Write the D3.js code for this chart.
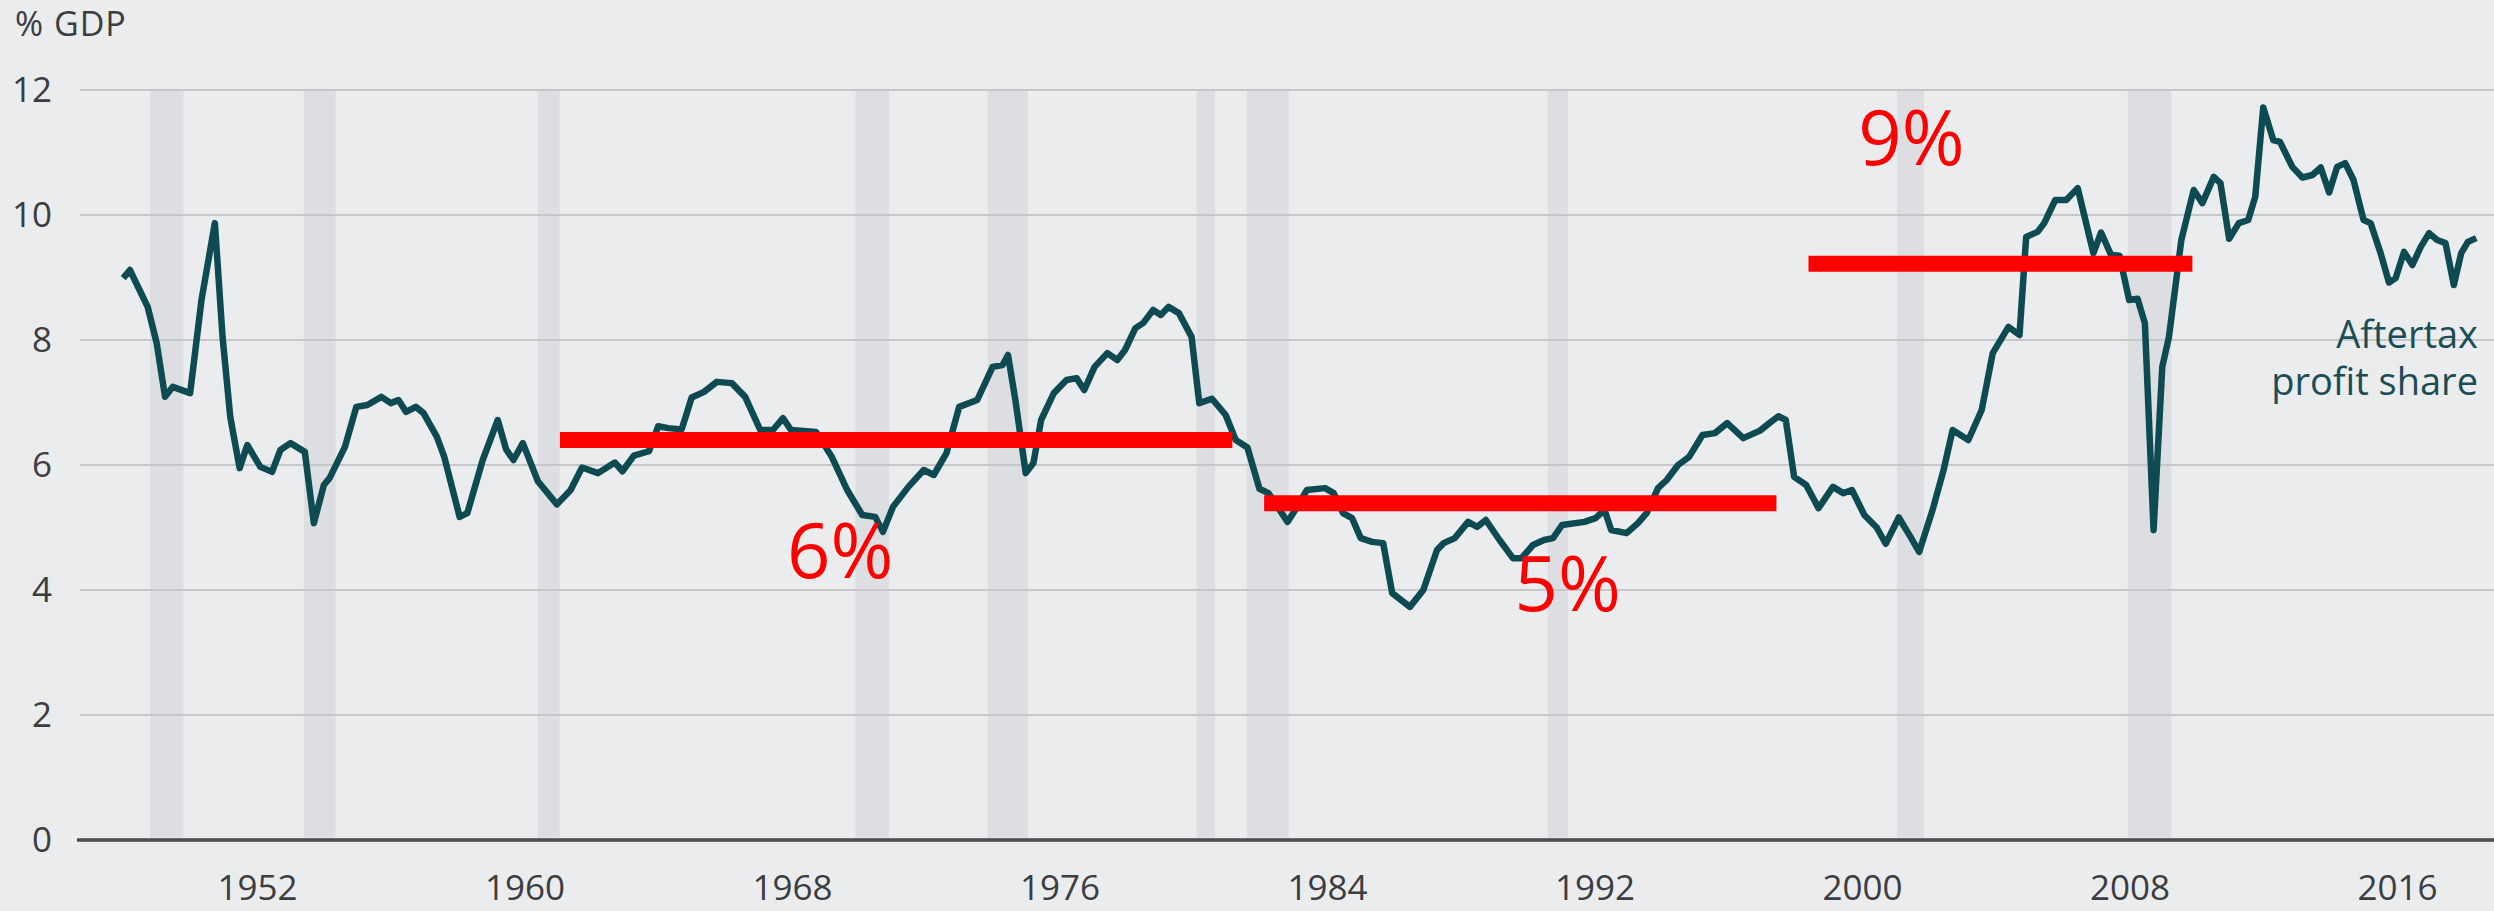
<!DOCTYPE html>
<html>
<head>
<meta charset="utf-8">
<script src="https://cdn.jsdelivr.net/npm/d3@7"></script>
<style>
  body { margin: 0; background: #eaecee; }
  svg { display: block; font-family: "Open Sans", sans-serif; }
</style>
</head>
<body>
<div id="chart"></div>
<script>
// aftertax profit share, % of GDP
var years = [1948.0, 1948.2, 1948.73, 1949.0, 1949.25, 1949.48, 1950.0, 1950.34, 1950.74, 1950.97,
  1951.2, 1951.48, 1951.71, 1952.1, 1952.45, 1952.7, 1953.0, 1953.43, 1953.7, 1954.0,
  1954.17, 1954.63, 1954.97, 1955.3, 1955.72, 1956.0, 1956.23, 1956.46, 1956.75, 1956.98,
  1957.38, 1957.6, 1958.06, 1958.29, 1958.75, 1959.2, 1959.45, 1959.67, 1959.95, 1960.4,
  1960.97, 1961.38, 1961.72, 1962.2, 1962.7, 1962.93, 1963.27, 1963.72, 1964.0, 1964.3,
  1964.7, 1965.0, 1965.37, 1965.75, 1966.2, 1966.6, 1967.05, 1967.43, 1967.73, 1967.97,
  1968.72, 1969.19, 1969.65, 1970.1, 1970.49, 1970.72, 1971.02, 1971.48, 1971.94, 1972.24,
  1972.62, 1973.0, 1973.54, 1974.0, 1974.3, 1974.46, 1974.68, 1974.99, 1975.22, 1975.45,
  1975.83, 1976.21, 1976.51, 1976.74, 1977.05, 1977.43, 1977.73, 1977.96, 1978.27, 1978.5,
  1978.8, 1979.03, 1979.26, 1979.57, 1979.95, 1980.18, 1980.56, 1980.97, 1981.27, 1981.62,
  1981.98, 1982.25, 1982.82, 1983.05, 1983.4, 1983.94, 1984.2, 1984.48, 1984.75, 1985.01,
  1985.35, 1985.68, 1985.95, 1986.48, 1986.88, 1987.29, 1987.49, 1987.82, 1988.22, 1988.49,
  1988.75, 1989.16, 1989.56, 1989.82, 1990.16, 1990.49, 1990.76, 1991.03, 1991.7, 1992.03,
  1992.3, 1992.5, 1992.96, 1993.3, 1993.56, 1993.9, 1994.16, 1994.5, 1994.83, 1995.23,
  1995.6, 1995.97, 1996.45, 1996.95, 1997.23, 1997.5, 1997.72, 1997.97, 1998.33, 1998.7,
  1999.13, 1999.44, 1999.7, 2000.07, 2000.44, 2000.71, 2001.1, 2001.45, 2001.71, 2002.11,
  2002.44, 2002.71, 2003.18, 2003.58, 2003.91, 2004.38, 2004.71, 2004.91, 2005.25, 2005.45,
  2005.78, 2006.11, 2006.45, 2006.92, 2007.15, 2007.45, 2007.7, 2007.99, 2008.24, 2008.46,
  2008.72, 2008.98, 2009.18, 2009.55, 2009.92, 2010.18, 2010.52, 2010.72, 2010.98, 2011.27,
  2011.55, 2011.76, 2012.0, 2012.3, 2012.5, 2012.87, 2013.17, 2013.47, 2013.72, 2013.97,
  2014.21, 2014.45, 2014.7, 2015.0, 2015.21, 2015.51, 2015.76, 2015.96, 2016.21, 2016.46,
  2016.71, 2016.96, 2017.2, 2017.45, 2017.7, 2017.92, 2018.12, 2018.37];
var share = [8.99, 9.12, 8.53, 7.95, 7.09, 7.25, 7.15, 8.64, 9.87, 8.05,
  6.77, 5.95, 6.32, 5.97, 5.89, 6.24, 6.35, 6.21, 5.07, 5.68,
  5.79, 6.29, 6.93, 6.96, 7.09, 6.99, 7.04, 6.85, 6.93, 6.83,
  6.45, 6.13, 5.17, 5.23, 6.08, 6.72, 6.25, 6.08, 6.35, 5.74,
  5.37, 5.6, 5.96, 5.87, 6.04, 5.9, 6.15, 6.22, 6.62, 6.59,
  6.57, 7.08, 7.17, 7.33, 7.31, 7.09, 6.56, 6.56, 6.75, 6.56,
  6.53, 6.13, 5.6, 5.2, 5.17, 4.93, 5.33, 5.65, 5.92, 5.84,
  6.19, 6.93, 7.04, 7.57, 7.6, 7.76, 7.04, 5.87, 6.03, 6.72,
  7.15, 7.36, 7.39, 7.2, 7.57, 7.79, 7.68, 7.84, 8.19, 8.27,
  8.48, 8.4, 8.53, 8.43, 8.05, 6.99, 7.06, 6.8, 6.4, 6.28,
  5.62, 5.55, 5.09, 5.28, 5.6, 5.63, 5.55, 5.23, 5.15, 4.83,
  4.77, 4.75, 3.95, 3.73, 4.0, 4.64, 4.75, 4.83, 5.09, 5.01,
  5.12, 4.8, 4.51, 4.51, 4.72, 4.8, 4.83, 5.04, 5.09, 5.15,
  5.28, 4.96, 4.91, 5.07, 5.23, 5.63, 5.76, 6.0, 6.13, 6.48,
  6.51, 6.67, 6.43, 6.55, 6.67, 6.78, 6.72, 5.81, 5.68, 5.31,
  5.65, 5.55, 5.6, 5.2, 5.0, 4.74, 5.16, 4.85, 4.61, 5.28,
  5.92, 6.56, 6.4, 6.88, 7.79, 8.21, 8.08, 9.65, 9.73, 9.87,
  10.24, 10.24, 10.43, 9.39, 9.72, 9.36, 9.35, 8.64, 8.66, 8.27,
  4.96, 7.57, 8.05, 9.6, 10.4, 10.19, 10.61, 10.51, 9.62, 9.87,
  9.92, 10.29, 11.72, 11.2, 11.17, 10.77, 10.6, 10.64, 10.76, 10.36,
  10.77, 10.83, 10.56, 9.92, 9.87, 9.39, 8.92, 8.99, 9.41, 9.2,
  9.49, 9.71, 9.6, 9.55, 8.88, 9.39, 9.57, 9.63];

// recession bands, start / end year
var recStart = [1948.8, 1953.4, 1960.4, 1969.9, 1973.85, 1980.1, 1981.6, 1990.6, 2001.05, 2007.95];
var recEnd = [1949.8, 1954.35, 1961.05, 1970.9, 1975.05, 1980.65, 1982.85, 1991.2, 2001.85, 2009.25];

var yTicks = [0, 2, 4, 6, 8, 10, 12];
var xTicks = [1952, 1960, 1968, 1976, 1984, 1992, 2000, 2008, 2016];

// red average lines added on top
var avgLevel = [6.4, 5.39, 9.22];
var avgFrom = [1961.06, 1982.12, 1998.4];
var avgTo = [1981.17, 1997.44, 2009.88];
var avgLabel = ["6%", "5%", "9%"];
var avgLabelYear = [1969.44, 1991.2, 2001.48];
var avgLabelValue = [4.2, 3.66, 10.8];

var W = 2494, H = 911;

var svg = d3.select("#chart")
  .append("svg")
  .attr("width", W)
  .attr("height", H);

svg.append("rect").attr("width", W).attr("height", H).attr("fill", "#eaecee");

var x = d3.scaleLinear().domain([1952, 2016]).range([257, 2397]);
var y = d3.scaleLinear().domain([0, 12]).range([840, 90]);

// recession bars
svg.append("g").selectAll("rect")
  .data(recStart).enter().append("rect")
  .attr("x", function(d){ return x(d); })
  .attr("width", function(d, i){ return x(recEnd[i]) - x(d); })
  .attr("y", y(12))
  .attr("height", y(0) - y(12))
  .attr("fill", "#dcdee1");

// gridlines
svg.append("g").selectAll("line")
  .data(yTicks.filter(function(d){ return d > 0; })).enter().append("line")
  .attr("x1", 80).attr("x2", W)
  .attr("y1", function(d){ return y(d); })
  .attr("y2", function(d){ return y(d); })
  .attr("stroke", "#c6c7c9")
  .attr("stroke-width", 2);

svg.append("line")
  .attr("x1", 77).attr("x2", W)
  .attr("y1", y(0)).attr("y2", y(0))
  .attr("stroke", "#4a4d50")
  .attr("stroke-width", 3.5);

// axes (labels only)
var yAxis = svg.append("g")
  .attr("transform", "translate(80,0)")
  .call(d3.axisLeft(y).tickValues(yTicks).tickSize(0).tickPadding(28));
var xAxis = svg.append("g")
  .attr("transform", "translate(0," + y(0) + ")")
  .call(d3.axisBottom(x).tickValues(xTicks).tickFormat(d3.format("d")).tickSize(0).tickPadding(35));
[yAxis, xAxis].forEach(function(a){
  a.select(".domain").remove();
  a.selectAll("text")
    .attr("fill", "#3b3d40")
    .style("font-family", "'Open Sans', sans-serif")
    .style("font-size", "35px");
});

svg.append("text")
  .attr("x", 15).attr("y", 36)
  .attr("fill", "#3b3d40")
  .style("font-size", "34px")
  .style("letter-spacing", "1px")
  .text("% GDP");

// the series
var line = d3.line()
  .x(function(d){ return x(d); })
  .y(function(d, i){ return y(share[i]); });

svg.append("path")
  .attr("d", line(years))
  .attr("fill", "none")
  .attr("stroke", "#0e4a52")
  .attr("stroke-width", 6.5)
  .attr("stroke-linejoin", "round");

var lab = svg.append("text")
  .attr("text-anchor", "end")
  .attr("fill", "#1b4d56")
  .style("font-size", "38px");
lab.append("tspan").attr("x", 2478).attr("y", 348).text("Aftertax");
lab.append("tspan").attr("x", 2478).attr("y", 395).text("profit share");

// red averages
svg.append("g").selectAll("line")
  .data(avgLevel).enter().append("line")
  .attr("x1", function(d, i){ return x(avgFrom[i]); })
  .attr("x2", function(d, i){ return x(avgTo[i]); })
  .attr("y1", function(d){ return y(d); })
  .attr("y2", function(d){ return y(d); })
  .attr("stroke", "#ff0000")
  .attr("stroke-width", 16);

svg.append("g").selectAll("text")
  .data(avgLabel).enter().append("text")
  .attr("x", function(d, i){ return x(avgLabelYear[i]); })
  .attr("y", function(d, i){ return y(avgLabelValue[i]); })
  .attr("text-anchor", "middle")
  .attr("fill", "#ff0000")
  .style("font-size", "76px")
  .text(function(d){ return d; });
</script>
</body>
</html>
